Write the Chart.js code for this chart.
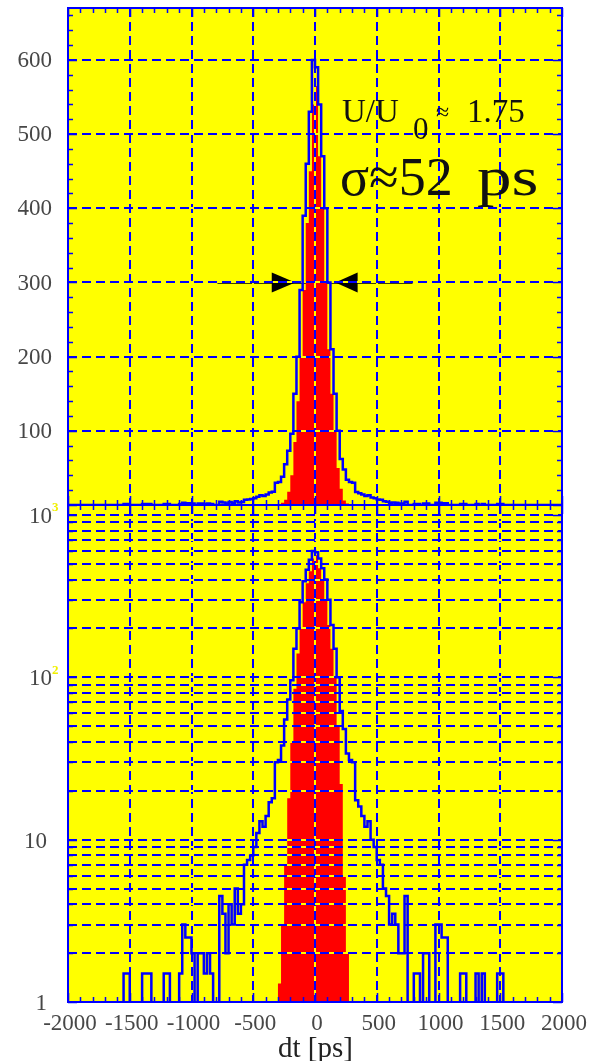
<!DOCTYPE html>
<html><head><meta charset="utf-8">
<script src="https://cdn.jsdelivr.net/npm/chart.js@4"></script>
<style>
html,body{margin:0;padding:0;background:#fff;}
#wrap{position:relative;width:592px;height:1061px;overflow:hidden;background:#fff;}
canvas{position:absolute;left:0;top:0;}
</style></head><body>
<div id="wrap"><canvas id="cLog" width="592" height="1061"></canvas><canvas id="cLin" width="592" height="1061"></canvas></div>
<script>
// ---------------- data ----------------
const binWidth = 25;          // ps
const histStart = -2000;      // ps, left edge of first bin
// all-hits histogram (blue), bins from -2000 to -25 ps
const blueLeft = [
  0,0,0,0,0,0,0,0,0,0, 0,0,0,0,0,0,0,0,1.5,1.5,
  0,0,0,0,1.5,1.5,1.5,0,0,0, 0,1.5,1.5,0,0,0,1.5,3,2.5,2.5,
  2,0,2,2,1.5,2,1.5,0,0,4.5, 3.5,2,4,3,5,3.5,4,7,7.5,8,
  9,11,13,12,14,17,18,30,31,38, 55,73,96,150,200,290,390,460,530,600
];
// bins from 0 to 1975 ps
const blueRight = [
  590,540,470,400,300,210,150,100,62,48, 34,31,30,17.5,16,14,12,13,10,9,
  7.5,7,5,4.5,3,3.5,3,2,2,4.5, 0,0,1.5,1.5,0,2,2,0,0,3,
  3,2.5,2.5,0,0,0,0,1.5,1.5,0, 0,0,1.5,0,1.5,0,0,0,0,1.5,
  1.5,0,0,0,0,0,0,0,0,0, 0,0,0,0,0,0,0,0,0,0
];
// selected-hits histogram (red), bins from -300 to 275 ps
const redStart = -300;
const redCounts = [1.3,3,7,18,40,85,140,200,290,380,450,540,
                   565,470,400,300,210,150,100,50,22,6,2,0];

const xTicks = [-2000,-1500,-1000,-500,0,500,1000,1500,2000];
const xTickLabels = ['-2000','-1500','-1000','-500','0','500','1000','1500','2000'];
const linTicks = [100,200,300,400,500,600];
const linTickLabels = ['100','200','300','400','500','600'];
const logTicks = [1,10,100,1000];
const logTickLabels = ['1','10','10','10'];
const logTickExp = ['','','2','3'];
const xTitle = 'dt [ps]';

// FWHM arrow annotation (data units)
const arrowLevel = 300;
const arrowSpan = [-790, 790];
const arrowLeftHead = [-350, -160];   // base, tip
const arrowRightHead = [345, 165];    // base, tip

// ---------------- helpers ----------------
const blueCounts = blueLeft.concat(blueRight);
const redFull = blueCounts.map(() => 0);
redCounts.forEach((v, k) => { redFull[(redStart - histStart) / binWidth + k] = v; });

function histPoints(counts, floor) {
  const pts = [];
  for (let i = 0; i < counts.length; i++) {
    pts.push({x: histStart + i * binWidth, y: counts[i] > 0 ? counts[i] : floor});
  }
  const last = counts[counts.length - 1];
  pts.push({x: histStart + counts.length * binWidth, y: last > 0 ? last : floor});
  return pts;
}

const YEL = '#ffff00', BLUE = '#0000ff', RED = '#ff0000', TXT = '#474747';
const SERIF = '"Liberation Serif", "Times New Roman", serif';

function gridLine(ctx, x1, y1, x2, y2) {
  ctx.save();
  ctx.lineWidth = 2;
  ctx.strokeStyle = YEL;
  ctx.setLineDash([]);
  ctx.beginPath(); ctx.moveTo(x1, y1); ctx.lineTo(x2, y2); ctx.stroke();
  ctx.strokeStyle = BLUE;
  ctx.setLineDash([9, 5]);
  ctx.beginPath(); ctx.moveTo(x1, y1); ctx.lineTo(x2, y2); ctx.stroke();
  ctx.restore();
}

function minorValues(isLog, ymin, ymax) {
  const out = [];
  if (isLog) {
    for (let d = 1; d <= 1000; d *= 10) for (let k = 1; k <= 9; k++) {
      const v = k * d; if (v >= ymin && v <= ymax) out.push({v, major: k === 1});
    }
  } else {
    for (let v = 0; v <= ymax; v += 20) out.push({v, major: v % 100 === 0});
  }
  return out;
}

const panelPlugin = {
  id: 'rootPanel',
  beforeDatasetsDraw(chart) {
    const {ctx, chartArea: a} = chart;
    ctx.save();
    ctx.fillStyle = YEL;
    ctx.fillRect(a.left, a.top, a.right - a.left, a.bottom - a.top);
    ctx.restore();
    const p = chart.options.plugins.rootPanel;
    if (p.arrow) {
      const xs = chart.scales.x, ys = chart.scales.y;
      const y = ys.getPixelForValue(arrowLevel);
      ctx.save();
      ctx.strokeStyle = '#000'; ctx.fillStyle = '#000'; ctx.lineWidth = 2.5;
      ctx.beginPath(); ctx.moveTo(xs.getPixelForValue(arrowSpan[0]), y);
      ctx.lineTo(xs.getPixelForValue(arrowSpan[1]), y); ctx.stroke();
      [arrowLeftHead, arrowRightHead].forEach(h => {
        const b = xs.getPixelForValue(h[0]), t = xs.getPixelForValue(h[1]);
        ctx.beginPath(); ctx.moveTo(b, y - 10); ctx.lineTo(t, y); ctx.lineTo(b, y + 10); ctx.closePath(); ctx.fill();
      });
      ctx.restore();
    }
  },
  afterDatasetDraw(chart, args) {
    if (args.index !== 1) return;
    const {ctx, chartArea: a} = chart;
    const xs = chart.scales.x, ys = chart.scales.y;
    const p = chart.options.plugins.rootPanel;
    xTicks.forEach(v => {
      if (v === xTicks[0] || v === xTicks[xTicks.length - 1]) return;
      const x = Math.round(xs.getPixelForValue(v));
      gridLine(ctx, x, a.top, x, a.bottom);
    });
    minorValues(p.isLog, ys.min, ys.max).forEach(m => {
      if (!p.isLog && m.v % 100 !== 0) return;
      if (m.v <= ys.min) return;
      const y = Math.round(ys.getPixelForValue(m.v));
      gridLine(ctx, a.left, y, a.right, y);
    });
  },
  afterDatasetsDraw(chart) {
    const {ctx, chartArea: a} = chart;
    const xs = chart.scales.x, ys = chart.scales.y;
    const p = chart.options.plugins.rootPanel;
    ctx.save();
    ctx.strokeStyle = BLUE; ctx.lineWidth = 2; ctx.setLineDash([]);
    ctx.strokeRect(a.left, a.top, a.right - a.left, a.bottom - a.top);
    // x ticks (inward, top and bottom)
    ctx.lineWidth = 1.5;
    ctx.beginPath();
    for (let v = -2000; v <= 2000; v += 100) {
      const x = Math.round(xs.getPixelForValue(v)) + 0.5;
      const L = v % 500 === 0 ? 9 : 5;
      ctx.moveTo(x, a.bottom); ctx.lineTo(x, a.bottom - L);
      ctx.moveTo(x, a.top); ctx.lineTo(x, a.top + L);
    }
    minorValues(p.isLog, ys.min, ys.max).forEach(m => {
      const y = Math.round(ys.getPixelForValue(m.v)) + 0.5;
      const L = m.major ? 9 : 5;
      ctx.moveTo(a.left, y); ctx.lineTo(a.left + L, y);
      ctx.moveTo(a.right, y); ctx.lineTo(a.right - L, y);
    });
    ctx.stroke();
    ctx.restore();

    // y tick labels
    ctx.save();
    ctx.fillStyle = TXT;
    ctx.textBaseline = 'middle';
    const F = '23px ' + SERIF;
    ctx.font = F;
    if (!p.isLog) {
      linTicks.forEach((v, i) => {
        ctx.textAlign = 'right';
        ctx.fillText(linTickLabels[i], a.left - 16, ys.getPixelForValue(v) + 1);
      });
    } else {
      logTicks.forEach((v, i) => {
        const y = ys.getPixelForValue(v) + 2;
        ctx.textAlign = 'right';
        ctx.fillStyle = TXT;
        const xr = logTickExp[i] ? a.left - 16 : a.left - 21;
        ctx.fillText(logTickLabels[i], xr, y);
        if (logTickExp[i]) {
          ctx.textAlign = 'left';
          ctx.fillStyle = '#f0f000';
          ctx.font = 'bold 13px ' + SERIF;
          ctx.fillText(logTickExp[i], a.left - 16, y - 9);
          ctx.font = F;
        }
      });
      // x tick labels
      ctx.fillStyle = TXT;
      ctx.textAlign = 'center';
      xTicks.forEach((v, i) => {
        ctx.fillText(xTickLabels[i], xs.getPixelForValue(v) + 2, a.bottom + 22);
      });
      ctx.font = '29px ' + SERIF;
      ctx.textAlign = 'left';
      ctx.textBaseline = 'alphabetic';
      ctx.fillStyle = '#222';
      ctx.fillText(xTitle, 278, 1057);
    }
    ctx.restore();

    if (p.annot) {
      ctx.save();
      ctx.fillStyle = '#111';
      ctx.textBaseline = 'alphabetic';
      ctx.textAlign = 'left';
      ctx.font = '33px ' + SERIF;
      ctx.fillText('U/U', 342, 122);
      ctx.font = '31px ' + SERIF;
      ctx.fillText('0', 413, 139);
      ctx.font = '24px ' + SERIF;
      ctx.fillText('\u2248', 436, 120);
      ctx.font = '33px ' + SERIF;
      ctx.fillText('1.75', 467, 122);
      ctx.font = '54px ' + SERIF;
      ctx.fillText('\u03c3\u224852', 340, 195);
      ctx.save();
      ctx.translate(477, 195); ctx.scale(1.28, 1);
      ctx.fillText('ps', 0, 0);
      ctx.restore();
      ctx.restore();
    }
  }
};

function makePanel(id, isLog, padding, annot) {
  const floor = isLog ? 0.5 : 0;
  new Chart(document.getElementById(id), {
    type: 'line',
    data: {
      datasets: [
        {data: histPoints(blueCounts, floor), borderColor: BLUE, borderWidth: 2.5,
         stepped: 'before', pointRadius: 0, fill: false},
        {data: histPoints(redFull, floor), borderColor: RED, borderWidth: 0,
         backgroundColor: RED, stepped: 'before', pointRadius: 0, fill: 'start'}
      ]
    },
    options: {
      responsive: false, animation: false, devicePixelRatio: 1,
      layout: {padding},
      scales: {
        x: {type: 'linear', min: -2000, max: 2000, display: false},
        y: isLog ? {type: 'logarithmic', min: 1, max: 1152, display: false}
                 : {type: 'linear', min: 0, max: 670, display: false}
      },
      plugins: {
        legend: {display: false}, tooltip: {enabled: false},
        rootPanel: {isLog, arrow: annot, annot}
      }
    },
    plugins: [panelPlugin]
  });
}

makePanel('cLog', true, {left: 68, right: 30, top: 505, bottom: 59}, false);
makePanel('cLin', false, {left: 68, right: 30, top: 8, bottom: 556}, true);
</script>
</body></html>
